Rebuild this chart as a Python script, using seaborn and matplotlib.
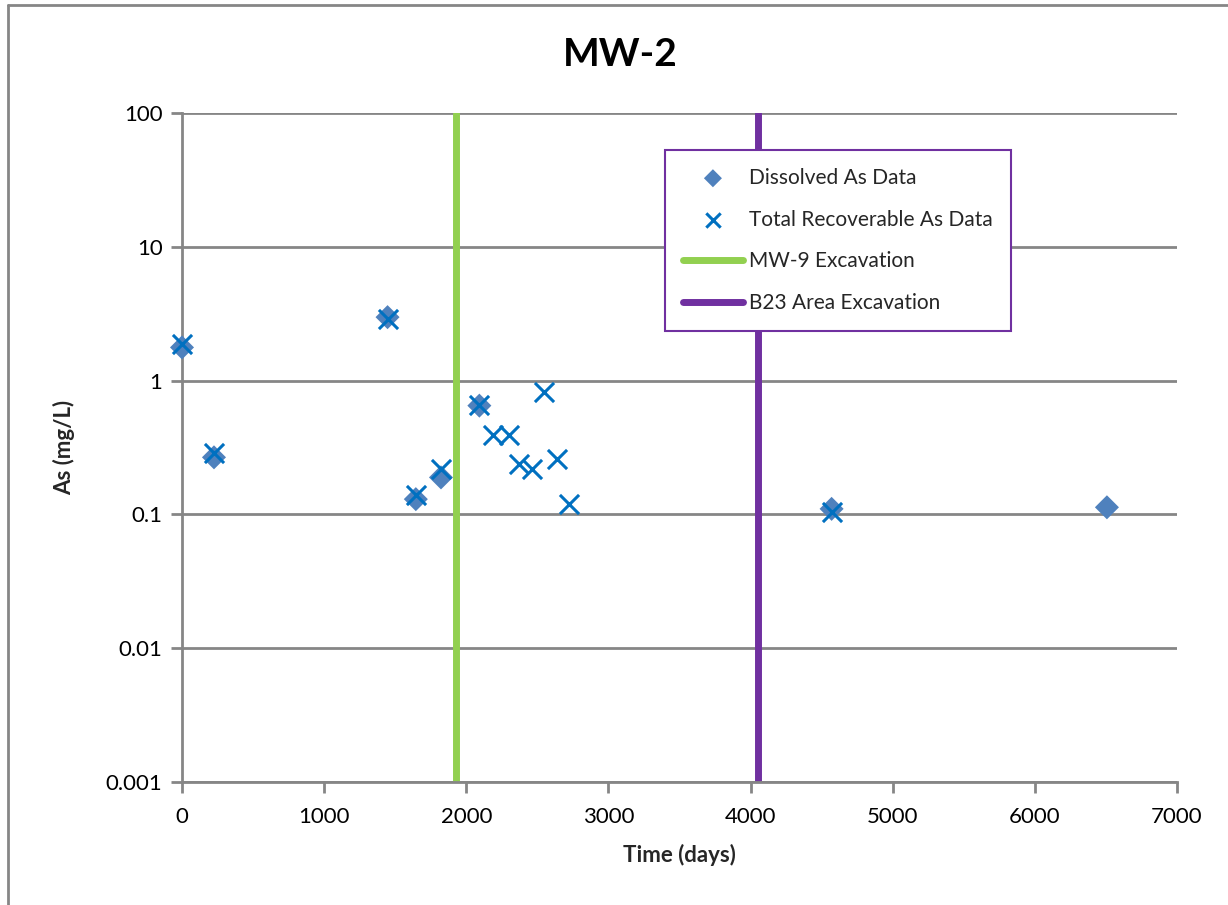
import matplotlib
matplotlib.use("Agg")
import matplotlib.pyplot as plt
import matplotlib.ticker as mticker
from matplotlib.lines import Line2D
import seaborn as sns
import pandas as pd

# ---- data ----
dissolved_days = [0, 225, 1446, 1645, 1822, 2092, 4570, 6507]
dissolved_as = [1.77, 0.267, 2.98, 0.13, 0.189, 0.65, 0.11, 0.113]

total_days = [0, 225, 1446, 1645, 1822, 2092, 2185, 2298, 2369, 2460, 2549, 2638, 2725, 4570]
total_as = [1.88, 0.29, 2.9, 0.14, 0.22, 0.66, 0.39, 0.39, 0.24, 0.22, 0.82, 0.26, 0.12, 0.104]

mw9_excavation_day = 1930
b23_excavation_day = 4050

x_ticks = [0, 1000, 2000, 3000, 4000, 5000, 6000, 7000]
y_ticks = [0.001, 0.01, 0.1, 1, 10, 100]
y_tick_labels = ["0.001", "0.01", "0.1", "1", "10", "100"]

sns.set_theme(style="white")
plt.rcParams['font.family'] = ['Lato', 'DejaVu Sans']

fig = plt.figure(figsize=(12.28, 9.05), dpi=100)
ax = fig.add_axes([182/1228, 1-782/905, 995/1228, 669/905])

df_d = pd.DataFrame({"days": dissolved_days, "as": dissolved_as})
df_t = pd.DataFrame({"days": total_days, "as": total_as})

sns.scatterplot(data=df_d, x="days", y="as", ax=ax, marker="D", s=150,
                color="#4F81BD", edgecolor="none", label="Dissolved As Data",
                zorder=3, clip_on=False)
sns.scatterplot(data=df_t, x="days", y="as", ax=ax, marker="x", s=190,
                color="#0070C0", linewidth=2.2, label="Total Recoverable As Data",
                zorder=4, clip_on=False)
ax.axvline(mw9_excavation_day, color="#92D050", lw=5, label="MW-9 Excavation", zorder=2)
ax.axvline(b23_excavation_day, color="#7030A0", lw=5, label="B23 Area Excavation", zorder=2)

ax.set_yscale("log")
ax.set_xlim(0, 7000)
ax.set_ylim(0.001, 100)
ax.set_xticks(x_ticks)
ax.set_yticks(y_ticks)
ax.yaxis.set_major_formatter(mticker.FixedFormatter(y_tick_labels))
ax.yaxis.set_minor_locator(mticker.NullLocator())

grid_c = "#868686"
ax.grid(axis="y", color=grid_c, lw=2, zorder=0)
ax.grid(axis="x", visible=False)
ax.set_axisbelow(True)
for s in ["top", "right"]:
    ax.spines[s].set_visible(False)
for s in ["left", "bottom"]:
    ax.spines[s].set_color(grid_c)
    ax.spines[s].set_linewidth(2)
ax.tick_params(axis="both", which="major", direction="out", length=8, width=2,
               color=grid_c, labelsize=16, labelcolor="black", pad=6)
ax.tick_params(axis="x", bottom=True, pad=10)
ax.tick_params(axis="y", left=True)

ax.set_xlabel("Time (days)", fontsize=16, fontweight="bold", labelpad=12)
ax.set_ylabel("As (mg/L)", fontsize=16, fontweight="bold", labelpad=22)
fig.text(620/1228, 1-55/905, "MW-2", fontsize=28, fontweight="bold",
         ha="center", va="center", color="black")

leg = ax.legend(loc="upper left", bbox_to_anchor=((665-182)/995, (782-150)/669),
                fontsize=15, frameon=True, fancybox=False, borderpad=0.85,
                labelspacing=1.05, handlelength=2.9, handletextpad=0.3,
                borderaxespad=0, framealpha=1, markerscale=0.75)
leg.get_frame().set_edgecolor("#7030A0")
leg.get_frame().set_linewidth(1.5)
for t in leg.get_texts():
    t.set_color("#262626")

# outer chart-area frame (top and left visible)
fig.add_artist(Line2D([8/1228, 1], [1-5/905, 1-5/905], color=grid_c, lw=2, transform=fig.transFigure))
fig.add_artist(Line2D([8/1228, 8/1228], [0, 1-5/905], color=grid_c, lw=2, transform=fig.transFigure))

fig.savefig("out.png", dpi=100, facecolor="white")
